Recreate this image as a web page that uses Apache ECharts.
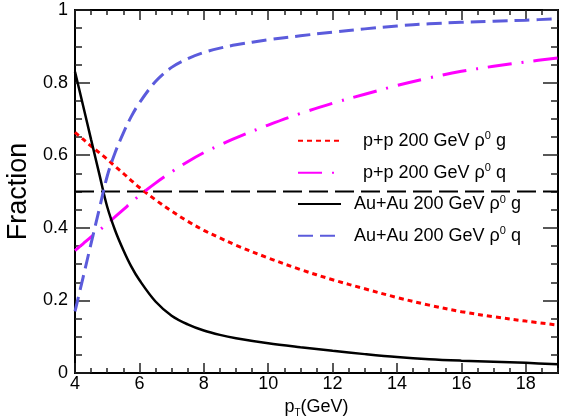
<!DOCTYPE html>
<html>
<head>
<meta charset="utf-8">
<script src="https://cdn.jsdelivr.net/npm/echarts@6/dist/echarts.min.js"></script>
<style>html,body{margin:0;padding:0;background:#fff}#c{width:573px;height:416px}</style>
</head>
<body>
<div id="c"></div>
<script>
// ---- data ----
var pT = [4, 4.25, 4.5, 4.75, 5, 5.25, 5.5, 5.75, 6, 6.5, 7, 7.5, 8, 8.5, 9, 10, 11, 12, 13, 14, 15, 16, 17, 18, 19];
var ppGluon  = [0.663, 0.644, 0.625, 0.607, 0.589, 0.569, 0.550, 0.530, 0.511, 0.477, 0.446, 0.418, 0.393, 0.372, 0.352, 0.317, 0.285, 0.257, 0.232, 0.208, 0.187, 0.169, 0.155, 0.143, 0.132];
var ppQuark  = [0.337, 0.356, 0.375, 0.393, 0.411, 0.431, 0.450, 0.470, 0.489, 0.523, 0.554, 0.582, 0.607, 0.628, 0.648, 0.683, 0.715, 0.743, 0.768, 0.792, 0.813, 0.831, 0.845, 0.857, 0.868];
var auGluon  = [0.830, 0.737, 0.643, 0.550, 0.458, 0.392, 0.339, 0.293, 0.256, 0.197, 0.158, 0.134, 0.117, 0.105, 0.096, 0.082, 0.071, 0.061, 0.052, 0.044, 0.038, 0.034, 0.031, 0.028, 0.024];
var auQuark  = [0.170, 0.263, 0.357, 0.450, 0.542, 0.608, 0.661, 0.707, 0.744, 0.803, 0.842, 0.866, 0.883, 0.895, 0.904, 0.918, 0.929, 0.939, 0.948, 0.956, 0.962, 0.966, 0.969, 0.972, 0.976];
var refX = [4, 19.45];
var refY = [0.5, 0.5];
var seriesNames = ['p+p 200 GeV ρ0 g', 'p+p 200 GeV ρ0 q', 'Au+Au 200 GeV ρ0 g', 'Au+Au 200 GeV ρ0 q'];
var xTickLabels = ['4', '6', '8', '10', '12', '14', '16', '18'];
var yTickLabels = ['0', '0.2', '0.4', '0.6', '0.8', '1'];

function pairs(xs, ys) { return xs.map(function (x, i) { return [x, ys[i]]; }); }

var FONT = 'Liberation Sans, Arial, sans-serif';
var axisLineStyle = { color: '#000', width: 2 };
var tickStyle = { color: '#222', width: 1.5 };

function xAx(pos, interval, len, labels) {
  return {
    type: 'value', position: pos, min: 4, max: 19, interval: interval,
    axisLine: { show: true, onZero: false, lineStyle: axisLineStyle },
    axisTick: { show: true, inside: true, length: len, lineStyle: tickStyle },
    splitLine: { show: false },
    axisLabel: labels ? {
      show: true, margin: 2, fontSize: 18, color: '#000', fontFamily: FONT, showMaxLabel: false,
      formatter: function (v) { var i = xTickLabels.indexOf(String(v)); return i >= 0 ? xTickLabels[i] : ''; }
    } : { show: false },
    name: labels ? '{p|p}{s|T}{p|(GeV)}' : '',
    nameLocation: 'middle', nameGap: 21,
    nameTextStyle: {
      fontFamily: FONT, color: '#000',
      rich: {
        p: { fontSize: 18, fontFamily: FONT, color: '#000' },
        s: { fontSize: 10, fontFamily: FONT, color: '#000', verticalAlign: 'bottom', padding: [12, 0, 0, 0] }
      }
    }
  };
}
function yAx(pos, labels) {
  return {
    type: 'value', position: pos, min: 0, max: 1, interval: 0.2,
    axisLine: { show: true, onZero: false, lineStyle: axisLineStyle },
    axisTick: { show: true, inside: true, length: 15, lineStyle: tickStyle },
    minorTick: { show: true, splitNumber: 4, length: 7, lineStyle: tickStyle },
    splitLine: { show: false }, minorSplitLine: { show: false },
    axisLabel: labels ? {
      show: true, margin: 7, fontSize: 18, color: '#000', fontFamily: FONT,
      formatter: function (v) { return yTickLabels[Math.round(v / 0.2)]; }
    } : { show: false },
    name: labels ? 'Fraction' : '', nameLocation: 'middle', nameGap: 33,
    nameTextStyle: { fontSize: 27, fontFamily: FONT, color: '#000' }
  };
}

var legendCenters = [140.7, 172.7, 204, 235.7];
var legendPad = [17, 17, 8, 8];
var legends = seriesNames.map(function (n, i) {
  return {
    data: [n], left: 297, top: legendCenters[i] - 10, orient: 'horizontal',
    padding: 0, itemWidth: 43, itemHeight: 20, selectedMode: false,
    itemStyle: { opacity: 0 },
    formatter: function (name) { return name.replace('ρ0', 'ρ{sup|0}'); },
    textStyle: {
      fontSize: 18, fontFamily: FONT, color: '#000', lineHeight: 20, padding: [0, 0, 0, legendPad[i]],
      rich: { sup: { fontSize: 11, fontFamily: FONT, color: '#000', verticalAlign: 'top', lineHeight: 14 } }
    }
  };
});

function lineSeries(name, ys, color, width, type) {
  return {
    type: 'line', name: name, data: pairs(pT, ys), smooth: 0.35, showSymbol: false, symbol: 'none',
    xAxisIndex: 0, yAxisIndex: 0, silent: true,
    lineStyle: { color: color, width: width, type: type, cap: 'butt' },
    itemStyle: { color: color }
  };
}

var option = {
  animation: false,
  backgroundColor: '#fff',
  grid: { left: 75, right: 15, top: 10, bottom: 43, containLabel: false, outerBoundsMode: 'none' },
  legend: legends,
  xAxis: [xAx('bottom', 2, 10, true), xAx('bottom', 0.5, 5, false), xAx('top', 2, 10, false), xAx('top', 0.5, 5, false)],
  yAxis: [yAx('left', true), yAx('right', false)],
  series: [
    {
      type: 'line', name: 'ref', data: pairs(refX, refY), showSymbol: false, symbol: 'none', clip: false, silent: true,
      xAxisIndex: 0, yAxisIndex: 0,
      lineStyle: { color: '#000', width: 2, type: [19, 7] }
    },
    lineSeries(seriesNames[0], ppGluon, '#ff0000', 3, [5, 4]),
    lineSeries(seriesNames[1], ppQuark, '#ff00ff', 3, [24, 10, 2, 10]),
    lineSeries(seriesNames[2], auGluon, '#000000', 2.5, 'solid'),
    lineSeries(seriesNames[3], auQuark, '#5b5bdc', 3, [15, 7])
  ]
};
var chart = echarts.init(document.getElementById('c'), null, { renderer: 'canvas' });
chart.setOption(option);
</script>
</body>
</html>
